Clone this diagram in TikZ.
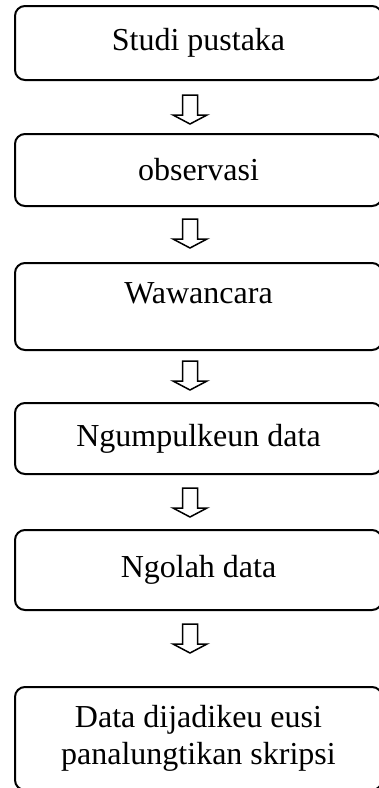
\documentclass[tikz,border=0pt]{standalone}
\usepackage{fontspec}
\setmainfont{Liberation Serif}
\usepackage{tikz}
\usetikzlibrary{positioning}

\begin{document}
\begin{tikzpicture}[
    x=0.5pt, y=-0.5pt,
    stepbox/.style={rectangle, draw, rounded corners=5pt, line width=1pt,
        minimum width=183.5pt, align=center, inner sep=0pt,
        font=\fontsize{16}{18.5}\selectfont},
    blockarrow/.pic={\draw[line width=0.75pt, line join=miter]
        (-7.5,0) -- (7.5,0) -- (7.5,20) -- (17,20) -- (0,29)
        -- (-17,20) -- (-7.5,20) -- cycle;}
]
\useasboundingbox (0,0) rectangle (379,788);
% Nodes
\node[stepbox, minimum height=37pt] (studi) at (198.5,43) {Studi pustaka};
\node[stepbox, minimum height=36pt] (obs) at (198.5,170) {observasi};
\node[stepbox, minimum height=43.5pt, text depth=13.5pt] (wawan) at (198.5,306.5) {Wawancara};
\node[stepbox, minimum height=35.5pt] (ngump) at (198.5,438.5) {Ngumpulkeun data};
\node[stepbox, minimum height=40pt] (ngolah) at (198.5,570) {Ngolah data};
\node[stepbox, minimum height=51.5pt] (hasil) at (198.5,738.5) {Data dijadikeu eusi\\panalungtikan skripsi};

% Arrows
\pic at ([yshift=-7pt]studi.south -| 190,0) {blockarrow};
\pic at ([yshift=-6pt]obs.south -| 190,0) {blockarrow};
\pic at ([yshift=-5pt]wawan.south -| 190,0) {blockarrow};
\pic at ([yshift=-6.5pt]ngump.south -| 190,0) {blockarrow};
\pic at ([yshift=-6.5pt]ngolah.south -| 190,0) {blockarrow};

\end{tikzpicture}
\end{document}
